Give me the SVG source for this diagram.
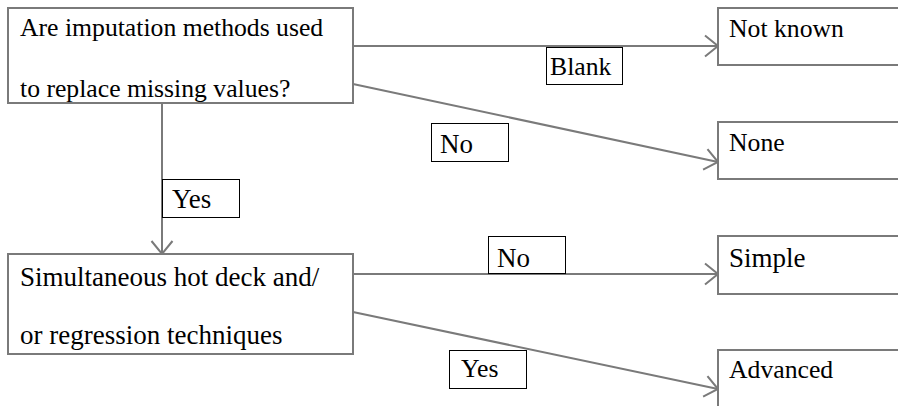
<svg xmlns="http://www.w3.org/2000/svg" width="898" height="406" viewBox="0 0 898 406">
  <style>
    .node { fill: #ffffff; stroke: #7a7a7a; stroke-width: 2; }
    .tag { fill: #ffffff; stroke: #000000; stroke-width: 1; }
    .edge { fill: none; stroke: #7a7a7a; stroke-width: 2; marker-end: url(#chevron); }
    .t { font-family: 'Liberation Serif', serif; fill: #000000; }
    .s { font-size: 25.7px; }
    .l { font-size: 27px; }
  </style>
  <defs>
    <marker id="chevron" markerUnits="userSpaceOnUse" markerWidth="16" markerHeight="24" refX="14" refY="11" orient="auto" overflow="visible">
      <path d="M1,0.5 L14,11 L1,21.5" fill="none" stroke="#7a7a7a" stroke-width="2"/>
    </marker>
  </defs>

  <!-- connectors -->
  <g id="connectors">
    <line class="edge" x1="353" y1="46" x2="718" y2="46"/>
    <line class="edge" x1="353" y1="84" x2="718" y2="162"/>
    <line class="edge" x1="162" y1="103" x2="162" y2="254"/>
    <line class="edge" x1="353" y1="274" x2="718" y2="274"/>
    <line class="edge" x1="353" y1="312" x2="718" y2="389"/>
  </g>

  <!-- edge labels -->
  <g id="label-blank">
    <rect class="tag" x="546.5" y="47.5" width="76" height="37"/>
    <text class="t s" x="550" y="75">Blank</text>
  </g>
  <g id="label-no-top">
    <rect class="tag" x="431.5" y="123.5" width="77" height="38"/>
    <text class="t l" x="440" y="153">No</text>
  </g>
  <g id="label-yes-left">
    <rect class="tag" x="162.5" y="179.5" width="77" height="38"/>
    <text class="t l" x="172" y="208">Yes</text>
  </g>
  <g id="label-no-bottom">
    <rect class="tag" x="488.5" y="236.5" width="77" height="37"/>
    <text class="t l" x="497" y="267">No</text>
  </g>
  <g id="label-yes-bottom">
    <rect class="tag" x="449.5" y="350.5" width="77" height="38"/>
    <text class="t s" x="461" y="377">Yes</text>
  </g>

  <!-- nodes -->
  <g id="node-question">
    <rect class="node" x="8" y="8" width="345" height="95"/>
    <text class="t s" x="20" y="36">Are imputation methods used</text>
    <text class="t s" x="20" y="97">to replace missing values?</text>
  </g>
  <g id="node-technique">
    <rect class="node" x="8" y="254" width="345" height="100"/>
    <text class="t l" x="20" y="286">Simultaneous hot deck and/</text>
    <text class="t l" x="20" y="344">or regression techniques</text>
  </g>
  <g id="node-not-known">
    <rect class="node" x="718" y="8" width="220" height="57"/>
    <text class="t s" x="729" y="37">Not known</text>
  </g>
  <g id="node-none">
    <rect class="node" x="718" y="122" width="220" height="57"/>
    <text class="t s" x="729" y="151">None</text>
  </g>
  <g id="node-simple">
    <rect class="node" x="718" y="236" width="220" height="58"/>
    <text class="t l" x="729" y="267">Simple</text>
  </g>
  <g id="node-advanced">
    <rect class="node" x="718" y="350" width="220" height="80"/>
    <text class="t s" x="729" y="378">Advanced</text>
  </g>
</svg>
